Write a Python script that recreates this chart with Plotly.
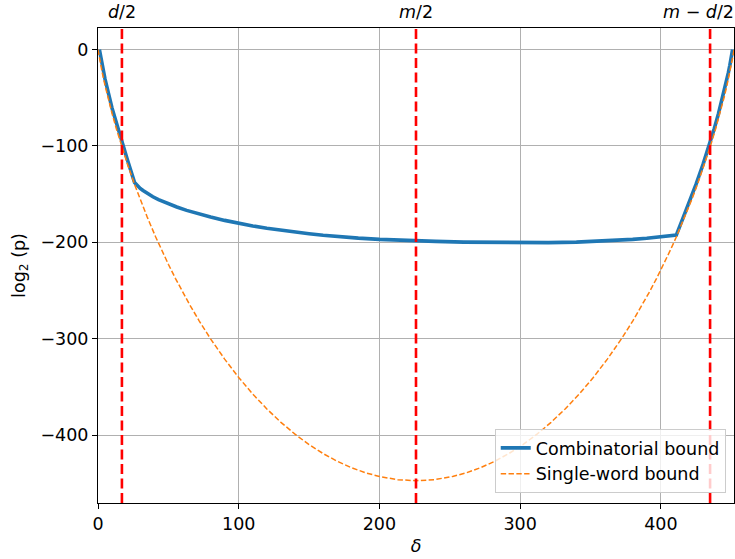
import plotly.graph_objects as go

# Single-word bound (orange dashed)
delta_single = [0, 1, 2, 3, 5, 7, 10, 13, 17, 21, 26, 30, 35, 41, 45, 50, 55, 60, 65, 72,
                80, 90, 100, 110, 120, 130, 140, 150, 160, 170, 180, 190, 200, 213, 226,
                239, 252, 262, 272, 282, 292, 302, 312, 322, 332, 342, 352, 362, 372, 380,
                387, 392, 397, 402, 407, 411, 417, 422, 426, 431, 435, 439, 442, 445, 447,
                449, 450, 451, 452]
log2p_single = [0, -8.8, -16.6, -23.9, -37.2, -49.4, -66.3, -81.9, -101.2, -119.1, -139.9,
                -155.5, -173.8, -194.4, -207.4, -222.7, -237.3, -251.2, -264.3, -281.7,
                -300.1, -321.1, -340.2, -357.4, -372.8, -386.7, -399.0, -409.8, -419.1,
                -427.1, -433.7, -439.0, -442.9, -446.2, -447.3,
                -446.2, -442.9, -439.0, -433.7, -427.1, -419.1, -409.8, -399.0, -386.7,
                -372.8, -357.4, -340.2, -321.1, -300.1, -281.7, -264.3, -251.2, -237.3,
                -222.7, -207.4, -194.4, -173.8, -155.5, -139.9, -119.1, -101.2, -81.9,
                -66.3, -49.4, -37.2, -23.9, -16.6, -8.8, 0]

# Combinatorial bound (blue solid)
delta_comb = [1, 2, 5, 10, 17, 21, 26, 28, 30, 32, 34, 36, 39, 43, 46, 50, 56, 63, 70, 80,
              90, 100, 110, 120, 134, 150, 160, 170, 185, 200, 214, 226, 240, 260, 280,
              300, 320, 340, 356, 370, 380, 390, 400, 405, 411,
              416, 421, 425, 430, 434, 438, 441, 444, 446, 448, 449, 450, 451]
log2p_comb = [0, -8.8, -30.7, -60.8, -96.5, -114.7, -138.0, -141.3, -144.0, -146.2,
              -148.3, -150.2, -152.7, -155.6, -157.6, -160.0, -163.3, -166.8, -169.8,
              -173.6, -177.2, -180.3, -183.0, -185.3, -188.2, -191.0, -192.6, -194.0,
              -195.6, -196.9, -197.8, -198.4, -199.0, -199.7, -200.2, -200.4, -200.3,
              -199.7, -198.8, -197.8, -196.9, -195.8, -194.4, -193.6, -192.5,
              -173.8, -155.5, -139.9, -119.1, -101.2, -81.9, -66.3, -49.4, -37.2,
              -23.9, -16.6, -8.8, 0]

# Reference lines and their top labels
ref_x = [17, 226, 435]
ref_labels = ["<i>d</i>/2", "<i>m</i>/2", "<i>m</i> \u2212 <i>d</i>/2"]
ref_label_shift = [0, 0, -12]

x_range = [0, 452]
y_range = [-470.4, 22.4]

FONT = "DejaVu Sans"
FS = 17.5
fig = go.Figure()

fig.add_trace(go.Scatter(
    x=delta_comb, y=log2p_comb, mode="lines", name="Combinatorial bound",
    line=dict(color="#1f77b4", width=3.6)))
fig.add_trace(go.Scatter(
    x=delta_single, y=log2p_single, mode="lines", name="Single-word bound",
    line=dict(color="#ff7f0e", width=1.5, dash="5.4px,2.4px")))

for xv in ref_x:
    fig.add_shape(type="line", x0=xv, x1=xv, y0=0, y1=1, xref="x", yref="paper",
                  line=dict(color="#ff0000", width=2.6, dash="10px,4.5px"), layer="above")

for xv, lab, sh in zip(ref_x, ref_labels, ref_label_shift):
    fig.add_annotation(x=xv, y=1, xref="x", yref="paper", text=lab, showarrow=False,
                       yanchor="bottom", yshift=5, xshift=sh, borderpad=0,
                       font=dict(family=FONT, size=FS, color="black"))

axis_common = dict(showline=True, linecolor="black", linewidth=1, mirror=True,
                   ticks="outside", ticklen=5, tickwidth=1, tickcolor="black",
                   showgrid=True, gridcolor="#b0b0b0", gridwidth=1.1, zeroline=False,
                   tickfont=dict(family=FONT, size=FS, color="black"))

fig.update_xaxes(range=x_range, tickvals=[0, 100, 200, 300, 400],
                 title=dict(text="<i>δ</i>", font=dict(family=FONT, size=FS, color="black"),
                            standoff=6), **axis_common)
fig.update_yaxes(range=y_range, tickvals=[-400, -300, -200, -100, 0],
                 title=dict(text="log<sub>2</sub> (p)", font=dict(family=FONT, size=FS, color="black"),
                            standoff=10), **axis_common)

fig.update_layout(
    width=735, height=559,
    margin=dict(l=98, r=1, t=28, b=56, autoexpand=False),
    plot_bgcolor="white", paper_bgcolor="white",
    font=dict(family=FONT, size=FS, color="black"),
    legend=dict(x=0.987, y=0.021, xanchor="right", yanchor="bottom",
                bgcolor="rgba(255,255,255,0.8)", bordercolor="#cccccc", borderwidth=1,
                font=dict(family=FONT, size=FS, color="black"), tracegroupgap=0),
    showlegend=True,
)

fig.write_html("out.html", config={"displayModeBar": False},
               post_script="document.body.style.margin='0px';")
